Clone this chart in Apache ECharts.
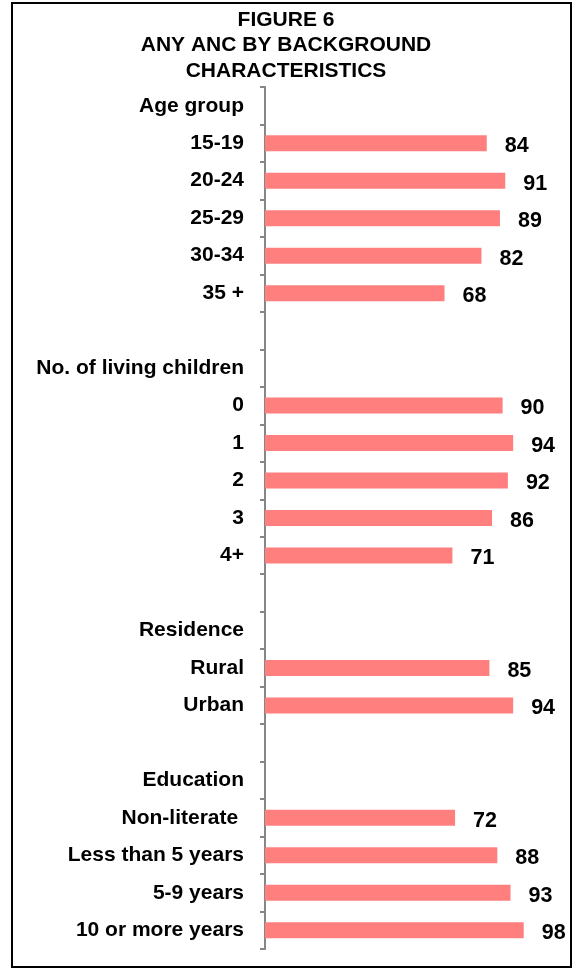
<!DOCTYPE html>
<html>
<head>
<meta charset="utf-8">
<script src="https://cdn.jsdelivr.net/npm/echarts@6/dist/echarts.min.js"></script>
<style>
  html, body { margin: 0; padding: 0; background: #fff; }
  #chart { width: 573px; height: 970px; }
</style>
</head>
<body>
<div id="chart"></div>
<script>
const titleLines = ['FIGURE 6', 'ANY ANC BY BACKGROUND', 'CHARACTERISTICS'];
const categories = [
  'Age group', '15-19', '20-24', '25-29', '30-34', '35 +', ' ',
  'No. of living children', '0', '1', '2', '3', '4+', '  ',
  'Residence', 'Rural', 'Urban', '   ',
  'Education', 'Non-literate ', 'Less than 5 years', '5-9 years', '10 or more years'
];
const values = [
  null, 84, 91, 89, 82, 68, null,
  null, 90, 94, 92, 86, 71, null,
  null, 85, 94, null,
  null, 72, 88, 93, 98
];

const font = '"Liberation Sans", Arial, sans-serif';
const chart = echarts.init(document.getElementById('chart'), null, { renderer: 'canvas' });
chart.setOption({
  backgroundColor: '#ffffff',
  animation: false,
  graphic: [
    {
      type: 'rect',
      shape: { x: 12, y: 3, width: 559, height: 964 },
      style: { fill: 'none', stroke: '#000', lineWidth: 2 },
      z: 0
    },
    {
      type: 'text',
      x: 286, y: 7,
      style: {
        text: titleLines.join('\n'),
        font: 'bold 21px ' + font,
        fill: '#000',
        textAlign: 'center',
        textVerticalAlign: 'top',
        lineHeight: 25.5
      },
      z: 10
    }
  ],
  grid: { left: 265, top: 87, width: 264, height: 862, containLabel: false },
  xAxis: {
    type: 'value', min: 0, max: 100,
    show: false
  },
  yAxis: {
    type: 'category',
    inverse: true,
    data: categories,
    axisLine: { show: true, lineStyle: { color: '#868686', width: 2 } },
    axisTick: { show: true, length: 5, lineStyle: { color: '#868686', width: 2 }, alignWithLabel: false },
    axisLabel: {
      margin: 21,
      color: '#000',
      fontWeight: 'bold',
      fontSize: 21,
      fontFamily: font,
      interval: 0,
      padding: [6, 0, 0, 0]
    },
    splitLine: { show: false }
  },
  series: [{
    type: 'bar',
    data: values,
    barWidth: 16,
    itemStyle: { color: '#FF7F7F' },
    label: {
      show: true,
      position: 'right',
      distance: 18,
      offset: [0, 3],
      color: '#000',
      fontWeight: 'bold',
      fontSize: 21.5,
      fontFamily: font
    }
  }]
});
</script>
</body>
</html>
